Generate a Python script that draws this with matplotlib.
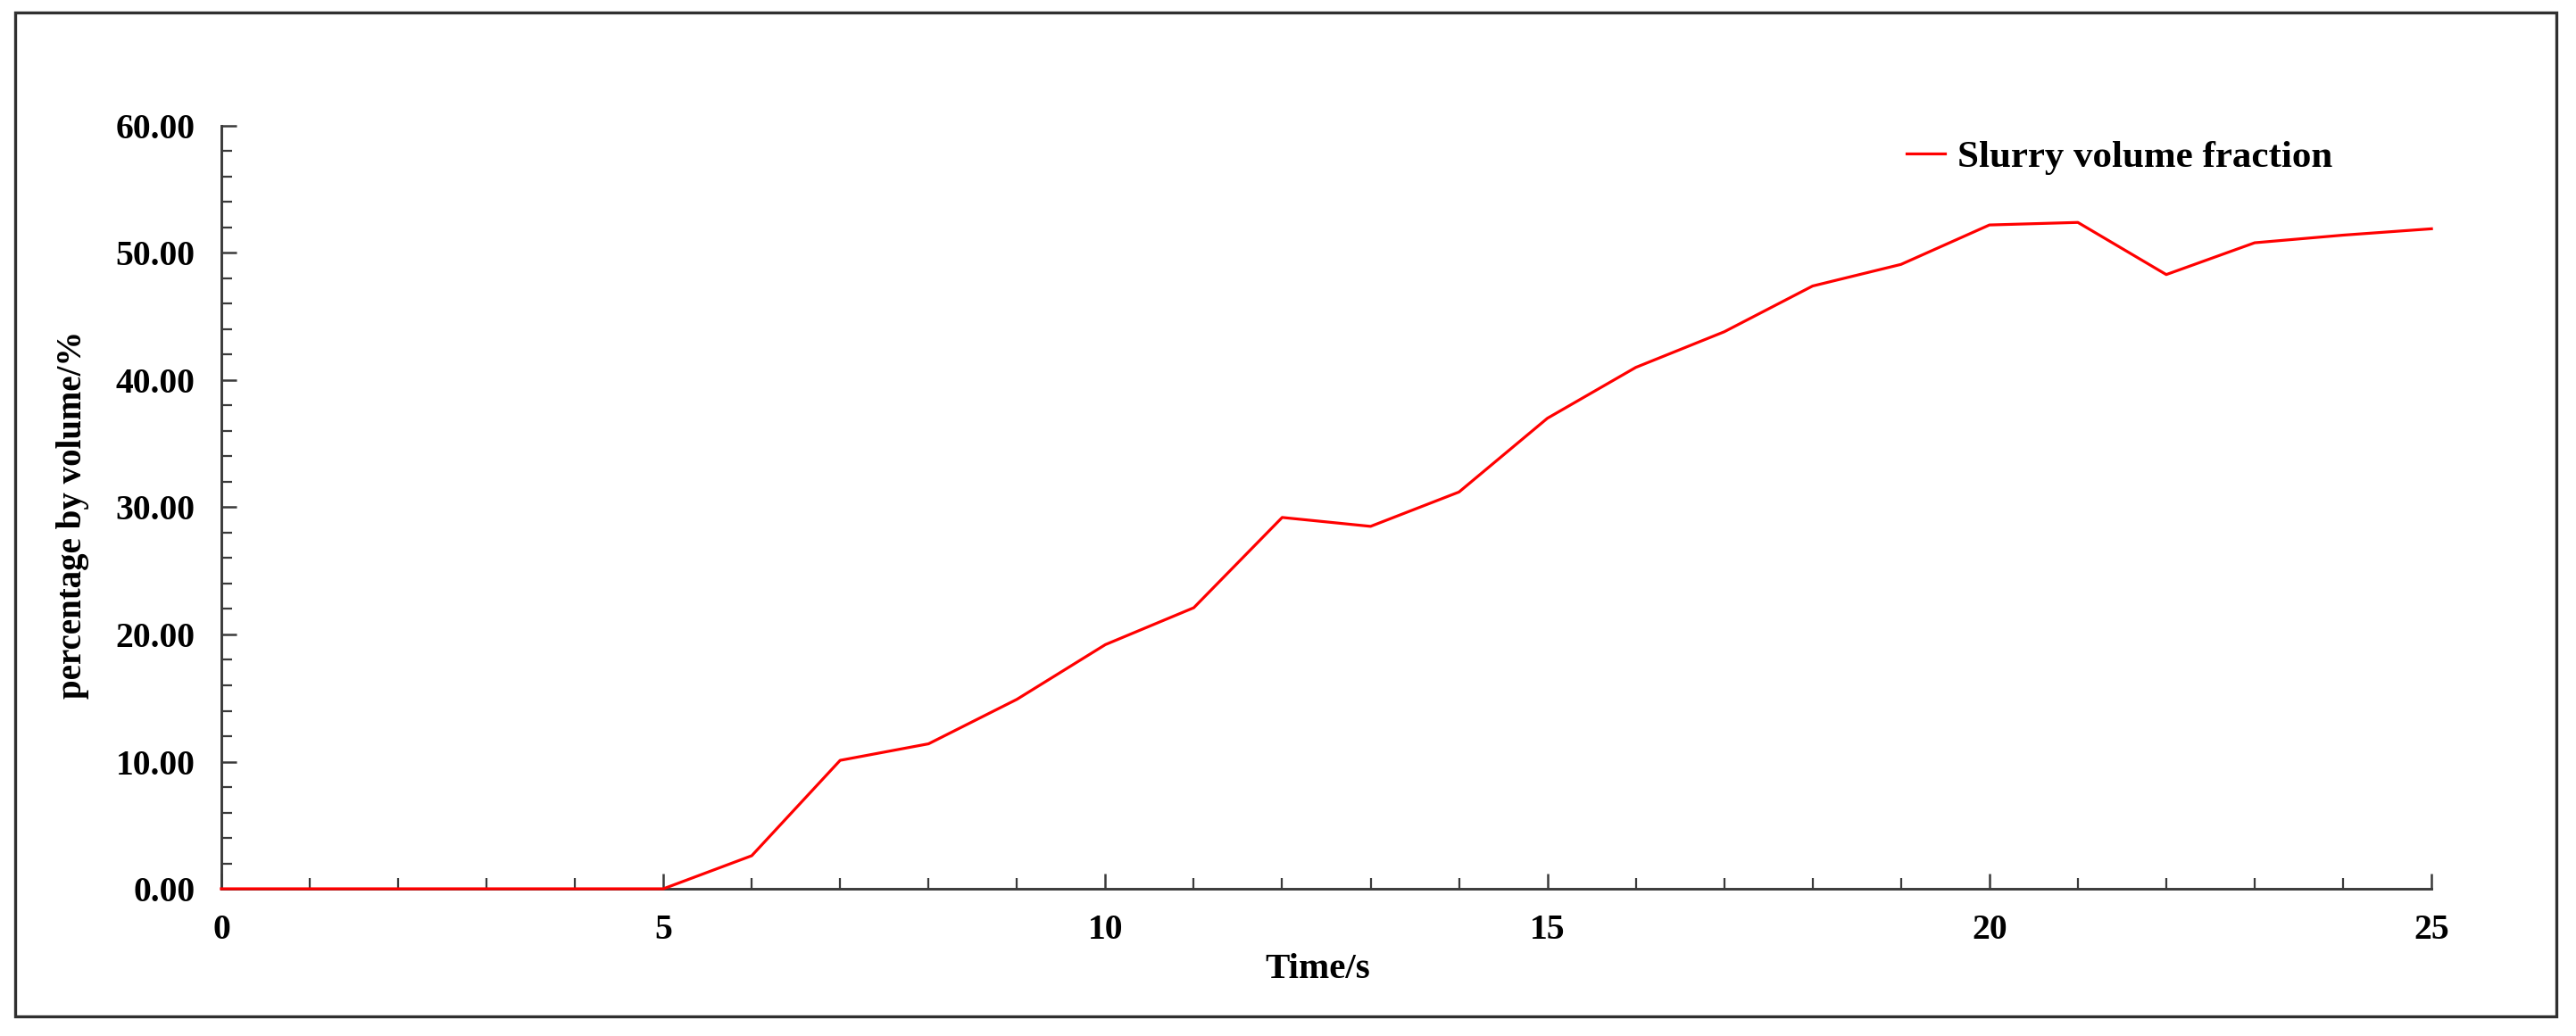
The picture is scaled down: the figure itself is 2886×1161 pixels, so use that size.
import matplotlib
matplotlib.use("Agg")
from matplotlib import pyplot as plt
from matplotlib.ticker import MultipleLocator, FormatStrFormatter
from matplotlib.patches import Rectangle

# data
time_s = [0, 1, 2, 3, 4, 5, 6, 7, 8, 9, 10, 11, 12, 13, 14, 15, 16, 17, 18, 19, 20, 21, 22, 23, 24, 25]
slurry_fraction = [0.0, 0.0, 0.0, 0.0, 0.0, 0.0, 2.6, 10.1, 11.4, 14.9, 19.2, 22.1, 29.2, 28.5, 31.2,
                   37.0, 41.0, 43.8, 47.4, 49.1, 52.2, 52.4, 48.3, 50.8, 51.4, 51.9]
series_name = "Slurry volume fraction"
x_title = "Time/s"
y_title = "percentage by volume/%"

plt.rcParams['font.family'] = ['Liberation Serif', 'DejaVu Serif']
plt.rcParams['font.weight'] = 'bold'

axis_col = '#3a3a3a'

fig = plt.figure(figsize=(28.86, 11.61), dpi=100)
ax = fig.add_axes([0.0859, 0.1421, 0.858, 0.7365])

ax.plot(time_s, slurry_fraction, color='#ff0000', lw=2.3, label=series_name,
        clip_on=False, zorder=5)

ax.set_xlim(0, 25)
ax.set_ylim(0, 60)

ax.spines['top'].set_visible(False)
ax.spines['right'].set_visible(False)
for s in ['left', 'bottom']:
    ax.spines[s].set_linewidth(2.1)
    ax.spines[s].set_color(axis_col)

ax.xaxis.set_major_locator(MultipleLocator(5))
ax.xaxis.set_minor_locator(MultipleLocator(1))
ax.yaxis.set_major_locator(MultipleLocator(10))
ax.yaxis.set_minor_locator(MultipleLocator(2))
ax.yaxis.set_major_formatter(FormatStrFormatter('%.2f'))

ax.tick_params(axis='both', which='major', direction='in', length=12.5, width=1.8,
               color=axis_col, labelsize=28.5)
ax.tick_params(axis='both', which='minor', direction='in', length=8.5, width=1.6,
               color=axis_col)
ax.tick_params(axis='x', which='major', pad=20)
ax.tick_params(axis='y', which='major', pad=21)

ax.set_xlabel(x_title, fontsize=29.5, fontweight='bold')
ax.set_ylabel(y_title, fontsize=28, fontweight='bold')
ax.xaxis.set_label_coords(0.496, -0.084)
ax.yaxis.set_label_coords(-0.0598, 0.49)

ax.legend(loc='center left', bbox_to_anchor=(0.7625, 0.959), frameon=False,
          fontsize=31, handlelength=1.0, handletextpad=0.33, borderpad=0,
          borderaxespad=0)

# outer frame round the whole figure
fig.patches.append(Rectangle((0.0059, 0.019), 0.9865, 0.969, transform=fig.transFigure,
                             fill=False, edgecolor='#303030', lw=2.4))

fig.savefig("out.png", dpi=100)
